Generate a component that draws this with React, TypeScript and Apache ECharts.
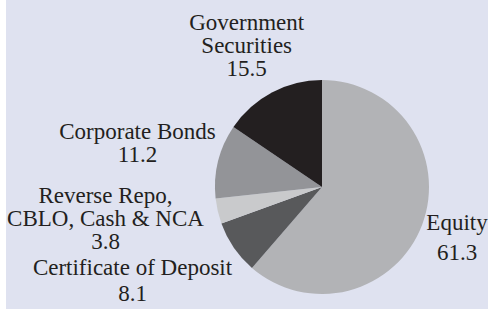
import React, { useEffect, useRef } from "react";
import * as echarts from "echarts";

const categories = [
  "Equity",
  "Certificate of Deposit",
  "Reverse Repo,\nCBLO, Cash & NCA",
  "Corporate Bonds",
  "Government\nSecurities",
];
const values = [61.3, 8.1, 3.8, 11.2, 15.5];
const colors = ["#b2b3b6", "#58595b", "#c9cacc", "#939498", "#231f20"];

// label placement (chart coordinates) and line spacing per slice
const labelPos: [number, number][] = [
  [451, 237],
  [126.5, 280],
  [99.5, 218],
  [131.5, 142.5],
  [240.7, 45],
];
const labelLH = [30, 26, 23, 23, 23];

export default function App() {
  const ref = useRef<HTMLDivElement>(null);
  useEffect(() => {
    document.body.style.margin = "0";
    const chart = echarts.init(ref.current!, undefined, { renderer: "svg" });
    chart.setOption({
      animation: false,
      backgroundColor: "#dfe2f0",
      series: [
        {
          type: "pie",
          center: [316, 187],
          radius: 107,
          startAngle: 90,
          clockwise: true,
          silent: true,
          itemStyle: { borderWidth: 0 },
          labelLine: { show: false },
          label: {
            show: true,
            position: "outside",
            overflow: "none",
            width: 400,
            formatter: (p: any) => `${p.name}\n${p.value}`,
            fontFamily: "'Liberation Serif', 'Times New Roman', serif",
            fontSize: 23,
            color: "#231f20",
            align: "center",
          },
          labelLayout: (params: any) => {
            const i = params.dataIndex;
            return {
              x: labelPos[i][0],
              y: labelPos[i][1],
              align: "center",
              verticalAlign: "middle",
            };
          },
          data: categories.map((name, i) => ({
            name,
            value: values[i],
            itemStyle: { color: colors[i] },
            label: { lineHeight: labelLH[i] },
          })),
        },
      ],
    });
    return () => chart.dispose();
  }, []);
  return (
    <div style={{ width: 488, height: 311, background: "#ffffff", position: "relative" }}>
      <div
        ref={ref}
        style={{ position: "absolute", left: 6, top: 0, width: 482, height: 309 }}
      />
    </div>
  );
}
